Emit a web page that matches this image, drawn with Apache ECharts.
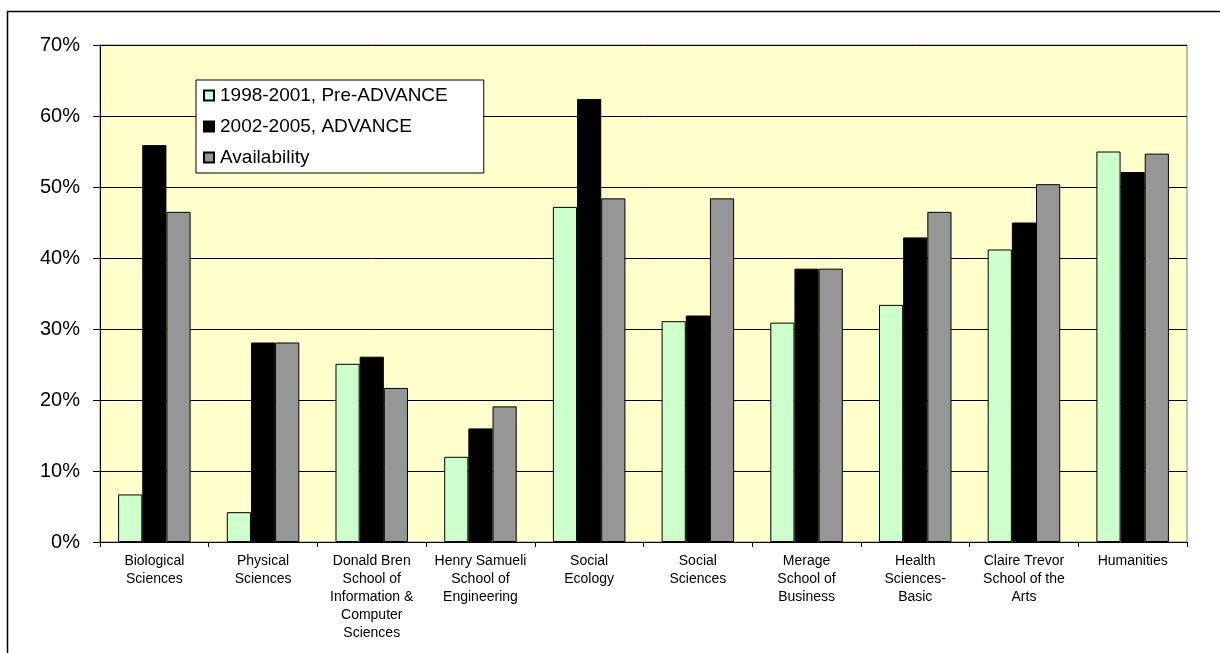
<!DOCTYPE html>
<html>
<head>
<meta charset="utf-8">
<script src="https://cdn.jsdelivr.net/npm/echarts@6/dist/echarts.min.js"></script>
<style>
html,body{margin:0;padding:0;background:#fff;}
#chart{width:1220px;height:653px;}
</style>
</head>
<body>
<div id="chart"></div>
<script>
var categories = [
  "Biological\nSciences",
  "Physical\nSciences",
  "Donald Bren\nSchool of\nInformation &\nComputer\nSciences",
  "Henry Samueli\nSchool of\nEngineering",
  "Social\nEcology",
  "Social\nSciences",
  "Merage\nSchool of\nBusiness",
  "Health\nSciences-\nBasic",
  "Claire Trevor\nSchool of the\nArts",
  "Humanities"
];
var seriesNames = ["1998-2001, Pre-ADVANCE", "2002-2005, ADVANCE", "Availability"];
var preAdvance = [6.7, 4.2, 25.1, 12.0, 47.2, 31.1, 30.9, 33.4, 41.2, 55.0];
var advance = [55.9, 28.1, 26.1, 16.0, 62.4, 31.9, 38.5, 42.9, 45.0, 52.1];
var availability = [46.5, 28.1, 21.7, 19.1, 48.4, 48.4, 38.5, 46.5, 50.4, 54.7];
var yTicks = [0, 10, 20, 30, 40, 50, 60, 70];

var colors = ["#CCFFCC", "#000000", "#969696"];
var values = [preAdvance, advance, availability];

var chart = echarts.init(document.getElementById('chart'), null, {renderer: 'canvas'});
var font = '"Liberation Sans", Arial, sans-serif';

var series = seriesNames.map(function (name, i) {
  return {
    name: name,
    type: 'bar',
    data: values[i],
    barGap: '0%',
    barCategoryGap: '33.3%',
    itemStyle: {color: colors[i], borderColor: '#000', borderWidth: 1},
    emphasis: {disabled: true},
    animation: false
  };
});

chart.setOption({
  animation: false,
  textStyle: {fontFamily: font},
  graphic: [{
    type: 'rect',
    shape: {x: 7.5, y: 11.5, width: 1230, height: 680},
    style: {fill: 'none', stroke: '#000', lineWidth: 1.5},
    z: -10
  }],
  grid: {
    left: 100, right: 33, top: 45, bottom: 111,
    show: true,
    backgroundColor: '#FFFFCC',
    borderColor: '#808080',
    borderWidth: 1
  },
  legend: {
    orient: 'vertical',
    left: 196,
    top: 80,
    data: seriesNames,
    backgroundColor: '#fff',
    borderColor: '#000',
    borderWidth: 1,
    padding: [6, 36, 6, 7],
    itemGap: 12,
    itemWidth: 10,
    itemHeight: 10,
    icon: 'rect',
    selectedMode: false,
    textStyle: {fontSize: 19, color: '#000', fontFamily: font, padding: [0, 0, 0, 1]}
  },
  xAxis: {
    type: 'category',
    data: categories,
    axisLine: {lineStyle: {color: '#000', width: 1}},
    axisTick: {show: true, length: 5, lineStyle: {color: '#000'}},
    axisLabel: {
      interval: 0,
      margin: 10,
      fontSize: 14,
      lineHeight: 18,
      color: '#000',
      fontFamily: font,
      verticalAlign: 'top'
    },
    splitLine: {show: false}
  },
  yAxis: {
    type: 'value',
    min: yTicks[0],
    max: yTicks[yTicks.length - 1],
    interval: 10,
    axisLine: {show: true, lineStyle: {color: '#000', width: 1}},
    axisTick: {show: true, length: 7, lineStyle: {color: '#000'}},
    axisLabel: {
      formatter: '{value}%',
      fontSize: 20,
      margin: 20,
      color: '#000',
      fontFamily: font
    },
    splitLine: {show: true, lineStyle: {color: '#000', width: 1}}
  },
  series: series
});
</script>
</body>
</html>
